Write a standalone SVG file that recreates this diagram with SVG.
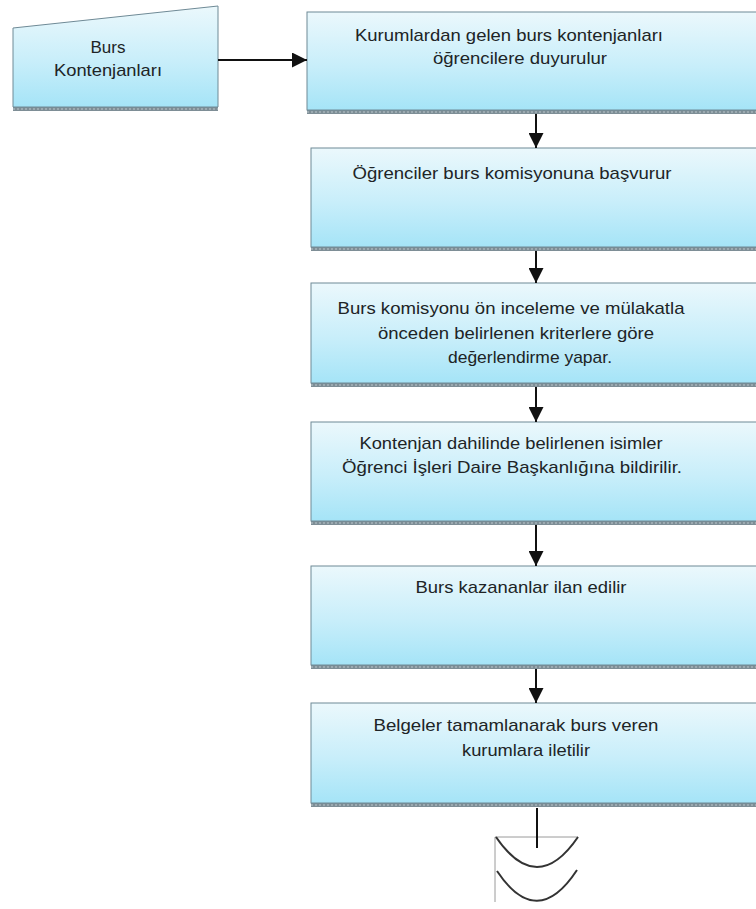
<svg xmlns="http://www.w3.org/2000/svg" width="756" height="909" viewBox="0 0 756 909">
  <defs>
    <linearGradient id="fillBlue" x1="0" y1="0" x2="0" y2="1">
      <stop offset="0" stop-color="#ebf8fc"/>
      <stop offset="0.55" stop-color="#c8eefa"/>
      <stop offset="1" stop-color="#a5e4f7"/>
    </linearGradient>
    <marker id="arrow" viewBox="0 0 10 10" refX="10" refY="5" markerWidth="15" markerHeight="15" markerUnits="userSpaceOnUse" orient="auto">
      <path d="M0,0 L10,5 L0,10 Z" fill="#111"/>
    </marker>
  </defs>
  <style>
    .box { fill: url(#fillBlue); stroke: #6f8a96; stroke-width: 1; }
    .shadow { fill: #7e8e96; }
    .shadowDots { stroke: #b9c6cc; stroke-width: 1; stroke-dasharray: 2 2; }
    .label { font-family: "Liberation Sans", Arial, sans-serif; font-size: 17px; fill: #202426; text-anchor: middle; }
    .conn { stroke: #111; stroke-width: 2; fill: none; }
    .term-frame { stroke: #9a9a9a; stroke-width: 1; fill: none; }
    .term-arc { stroke: #333; stroke-width: 2; fill: none; }
  </style>

  <!-- input: manual-input trapezoid -->
  <g id="input-burs-kontenjanlari">
    <rect class="shadow" x="13" y="107" width="205" height="4"/>
    <line class="shadowDots" x1="13" y1="109" x2="218" y2="109"/>
    <polygon class="box" points="13,28 218,6 218,107 13,107"/>
    <text class="label" x="108" y="53">Burs</text>
    <text class="label" x="108" y="76" textLength="108" lengthAdjust="spacingAndGlyphs">Kontenjanları</text>
  </g>

  <!-- process steps -->
  <g id="step-duyuru">
    <rect class="shadow" x="307" y="110" width="460" height="4"/>
    <line class="shadowDots" x1="307" y1="112" x2="767" y2="112"/>
    <rect class="box" x="307" y="12" width="460" height="98"/>
    <text class="label" x="509" y="41" textLength="308" lengthAdjust="spacingAndGlyphs">Kurumlardan gelen burs kontenjanları</text>
    <text class="label" x="520" y="64" textLength="174" lengthAdjust="spacingAndGlyphs">öğrencilere duyurulur</text>
  </g>

  <g id="step-basvuru">
    <rect class="shadow" x="311" y="247" width="456" height="4"/>
    <line class="shadowDots" x1="311" y1="249" x2="767" y2="249"/>
    <rect class="box" x="311" y="148" width="456" height="99"/>
    <text class="label" x="512" y="179" textLength="319" lengthAdjust="spacingAndGlyphs">Öğrenciler burs komisyonuna başvurur</text>
  </g>

  <g id="step-degerlendirme">
    <rect class="shadow" x="311" y="383" width="456" height="4"/>
    <line class="shadowDots" x1="311" y1="385" x2="767" y2="385"/>
    <rect class="box" x="311" y="283" width="456" height="100"/>
    <text class="label" x="511" y="314" textLength="347" lengthAdjust="spacingAndGlyphs">Burs komisyonu ön inceleme ve mülakatla</text>
    <text class="label" x="516" y="339" textLength="276" lengthAdjust="spacingAndGlyphs">önceden belirlenen kriterlere göre</text>
    <text class="label" x="530" y="363" textLength="164" lengthAdjust="spacingAndGlyphs">değerlendirme yapar.</text>
  </g>

  <g id="step-bildirim">
    <rect class="shadow" x="311" y="521" width="456" height="4"/>
    <line class="shadowDots" x1="311" y1="523" x2="767" y2="523"/>
    <rect class="box" x="311" y="422" width="456" height="99"/>
    <text class="label" x="511" y="449" textLength="303" lengthAdjust="spacingAndGlyphs">Kontenjan dahilinde belirlenen isimler</text>
    <text class="label" x="512" y="473" textLength="340" lengthAdjust="spacingAndGlyphs">Öğrenci İşleri Daire Başkanlığına bildirilir.</text>
  </g>

  <g id="step-ilan">
    <rect class="shadow" x="311" y="665" width="456" height="4"/>
    <line class="shadowDots" x1="311" y1="667" x2="767" y2="667"/>
    <rect class="box" x="311" y="566" width="456" height="99"/>
    <text class="label" x="521" y="593" textLength="211" lengthAdjust="spacingAndGlyphs">Burs kazananlar ilan edilir</text>
  </g>

  <g id="step-iletim">
    <rect class="shadow" x="311" y="803" width="456" height="4"/>
    <line class="shadowDots" x1="311" y1="805" x2="767" y2="805"/>
    <rect class="box" x="311" y="703" width="456" height="100"/>
    <text class="label" x="516" y="731" textLength="285" lengthAdjust="spacingAndGlyphs">Belgeler tamamlanarak burs veren</text>
    <text class="label" x="526" y="756" textLength="128" lengthAdjust="spacingAndGlyphs">kurumlara iletilir</text>
  </g>

  <!-- end: stored-data terminal -->
  <g id="end-terminal">
    <polyline class="term-frame" points="578,837 495,837 495,902"/>
    <path class="term-arc" d="M496,837 Q537,897 578,837"/>
    <path class="term-arc" d="M497,871 Q537,931 577,870"/>
  </g>

  <!-- connectors -->
  <g id="connectors">
    <line class="conn" x1="218" y1="60" x2="307" y2="60" marker-end="url(#arrow)"/>
    <line class="conn" x1="536" y1="114" x2="536" y2="148" marker-end="url(#arrow)"/>
    <line class="conn" x1="536" y1="251" x2="536" y2="283" marker-end="url(#arrow)"/>
    <line class="conn" x1="536" y1="387" x2="536" y2="422" marker-end="url(#arrow)"/>
    <line class="conn" x1="536" y1="525" x2="536" y2="566" marker-end="url(#arrow)"/>
    <line class="conn" x1="536" y1="669" x2="536" y2="703" marker-end="url(#arrow)"/>
    <line class="conn" x1="537" y1="808" x2="537" y2="848"/>
  </g>
</svg>
